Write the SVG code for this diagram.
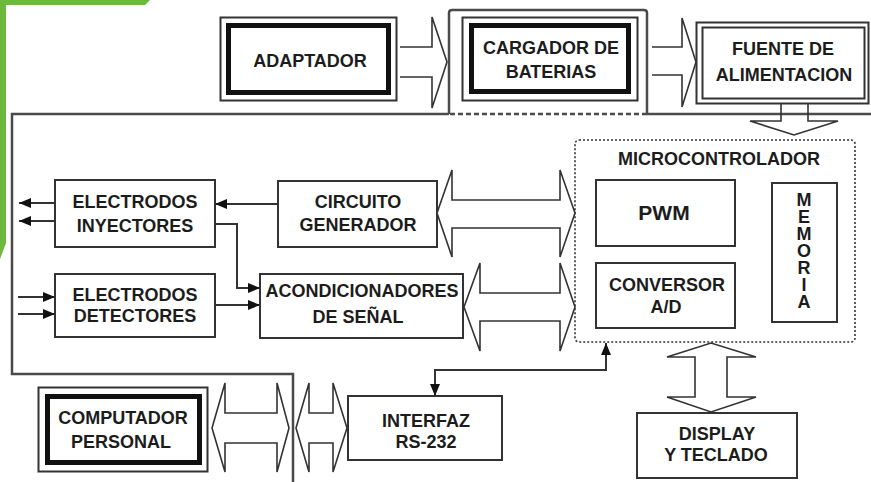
<svg xmlns="http://www.w3.org/2000/svg" width="871" height="482" viewBox="0 0 871 482">
<style>
.t{font-family:"Liberation Sans",Arial,sans-serif;font-weight:bold;font-size:18px;fill:#1c1c1c;text-anchor:middle}
.v{font-size:18px;writing-mode:vertical-rl;text-orientation:upright;letter-spacing:-3px;text-anchor:start}
.box{fill:#fff;stroke:#333;stroke-width:2}
.thin{fill:none;stroke:#333;stroke-width:2}
.thick{fill:none;stroke:#111;stroke-width:5}
.frame{fill:none;stroke:#4a4a4a;stroke-width:2.5}
.blk{fill:#fff;stroke:#333;stroke-width:1.6;stroke-linejoin:miter}
.con{fill:none;stroke:#333;stroke-width:2}
</style>
<defs>
<marker id="ah" viewBox="0 0 12 10" refX="12" refY="5" markerWidth="12" markerHeight="10" markerUnits="userSpaceOnUse" orient="auto">
<path d="M0,0 L12,5 L0,10 Z" fill="#111"/>
</marker>
</defs>
<rect width="871" height="482" fill="#fff"/>
<polygon points="0,0 150,0 145,5 6,5 6,243 0,259" fill="#6cb93d"/>

<g id="frame">
<path class="frame" d="M871,114 H647"/>
<path class="frame" d="M647,114 H449" stroke-dasharray="5,3"/>
<path class="frame" d="M449,114 H12 V374 H293 V482"/>
</g>

<g id="adaptador">
<rect class="thin" x="220.5" y="17.5" width="176" height="83"/>
<rect class="thick" x="228.5" y="25.5" width="160" height="67"/>
<text class="t" x="310" y="67">ADAPTADOR</text>
</g>

<g id="cargador">
<path class="frame" d="M449,114 V13 Q449,10 452,10 H644 Q647,10 647,13 V114" stroke="#666"/>
<rect class="thin" x="462.5" y="17.5" width="175" height="83"/>
<rect class="thick" x="471.5" y="25.5" width="157" height="66"/>
<text class="t" x="551" y="54">CARGADOR DE</text>
<text class="t" x="551" y="78">BATERIAS</text>
</g>

<g id="fuente">
<rect class="thin" x="696.5" y="22.5" width="172" height="81"/>
<rect class="thin" x="702.5" y="27.5" width="162" height="71"/>
<text class="t" x="783" y="55">FUENTE DE</text>
<text class="t" x="784" y="81">ALIMENTACION</text>
</g>

<g id="microcontrolador">
<rect x="575" y="140" width="280" height="202" rx="4" fill="none" stroke="#333" stroke-width="1.6" stroke-dasharray="2,2"/>
<text class="t" x="719" y="165">MICROCONTROLADOR</text>
</g>
<g id="pwm">
<rect class="box" x="596" y="180" width="139" height="66"/>
<text class="t" x="664" y="220" style="font-size:21px">PWM</text>
</g>
<g id="conversor">
<rect class="box" x="596" y="263" width="139" height="65"/>
<text class="t" x="667" y="291">CONVERSOR</text>
<text class="t" x="666" y="313">A/D</text>
</g>
<g id="memoria">
<rect class="box" x="772" y="183" width="65" height="139"/>
<text class="t v" x="804" y="190">MEMORIA</text>
</g>

<g id="inyectores">
<rect class="box" x="55" y="180" width="160" height="67"/>
<text class="t" x="135" y="208">ELECTRODOS</text>
<text class="t" x="135" y="232">INYECTORES</text>
</g>
<g id="detectores">
<rect class="box" x="55" y="274" width="160" height="63"/>
<text class="t" x="135" y="301">ELECTRODOS</text>
<text class="t" x="135" y="322">DETECTORES</text>
</g>
<g id="generador">
<rect class="box" x="278" y="181" width="159" height="66"/>
<text class="t" x="358" y="208">CIRCUITO</text>
<text class="t" x="358" y="231">GENERADOR</text>
</g>
<g id="acondicionadores">
<rect class="box" x="260" y="274" width="203" height="64"/>
<text class="t" x="362" y="297">ACONDICIONADORES</text>
<text class="t" x="358" y="323">DE SEÑAL</text>
</g>

<g id="computador">
<rect class="thin" x="38.5" y="387.5" width="169" height="84"/>
<rect class="thick" x="47.5" y="396.5" width="152" height="66"/>
<text class="t" x="123" y="424">COMPUTADOR</text>
<text class="t" x="121" y="448">PERSONAL</text>
</g>
<g id="interfaz">
<rect class="box" x="348" y="396" width="154" height="64"/>
<text class="t" x="426" y="427">INTERFAZ</text>
<text class="t" x="426" y="448">RS-232</text>
</g>
<g id="display">
<rect class="box" x="637" y="413" width="160" height="65"/>
<text class="t" x="717" y="440">DISPLAY</text>
<text class="t" x="716" y="461">Y TECLADO</text>
</g>

<g id="connectors">
<path class="blk" d="M400,47 H432 V17 L447,62 L432,108 V77 H400"/>
<path class="blk" d="M652,47 H682 V18 L696,62 L682,107 V75 H652"/>
<path class="blk" d="M781,103 V121 H750 L794,135 L838,121 H808 V103" style="fill:none"/>
<path class="blk" d="M452,200 H560 V170 L575,213 L560,257 V228 H452 V257 L437,213 L452,170 Z"/>
<path class="blk" d="M480,293 H560 V263 L575,307 L560,351 V321 H480 V351 L464,307 L480,263 Z"/>
<path class="blk" d="M225,413 H277 V383 L289,428 L277,472 V443 H225 V472 L212,428 L225,383 Z"/>
<path class="blk" d="M309,413 H333 V383 L347,428 L333,472 V443 H309 V472 L296,428 L309,383 Z"/>
<path class="blk" d="M695,357 H667 L711,343 L756,357 H727 V397 H756 L711,412 L667,397 H695 Z"/>
<path class="con" d="M55,203 H19" marker-end="url(#ah)"/>
<path class="con" d="M55,221 H19" marker-end="url(#ah)"/>
<path class="con" d="M18,297 H55" marker-end="url(#ah)"/>
<path class="con" d="M18,314 H55" marker-end="url(#ah)"/>
<path class="con" d="M278,204 H215" marker-end="url(#ah)"/>
<path class="con" d="M215,224 H237 V288 H260" marker-end="url(#ah)"/>
<path class="con" d="M215,305 H260" marker-end="url(#ah)"/>
<path class="con" d="M606,359 V370 H435 V396" marker-end="url(#ah)"/>
<path class="con" d="M606,370 V343" marker-end="url(#ah)"/>
</g>
</svg>
